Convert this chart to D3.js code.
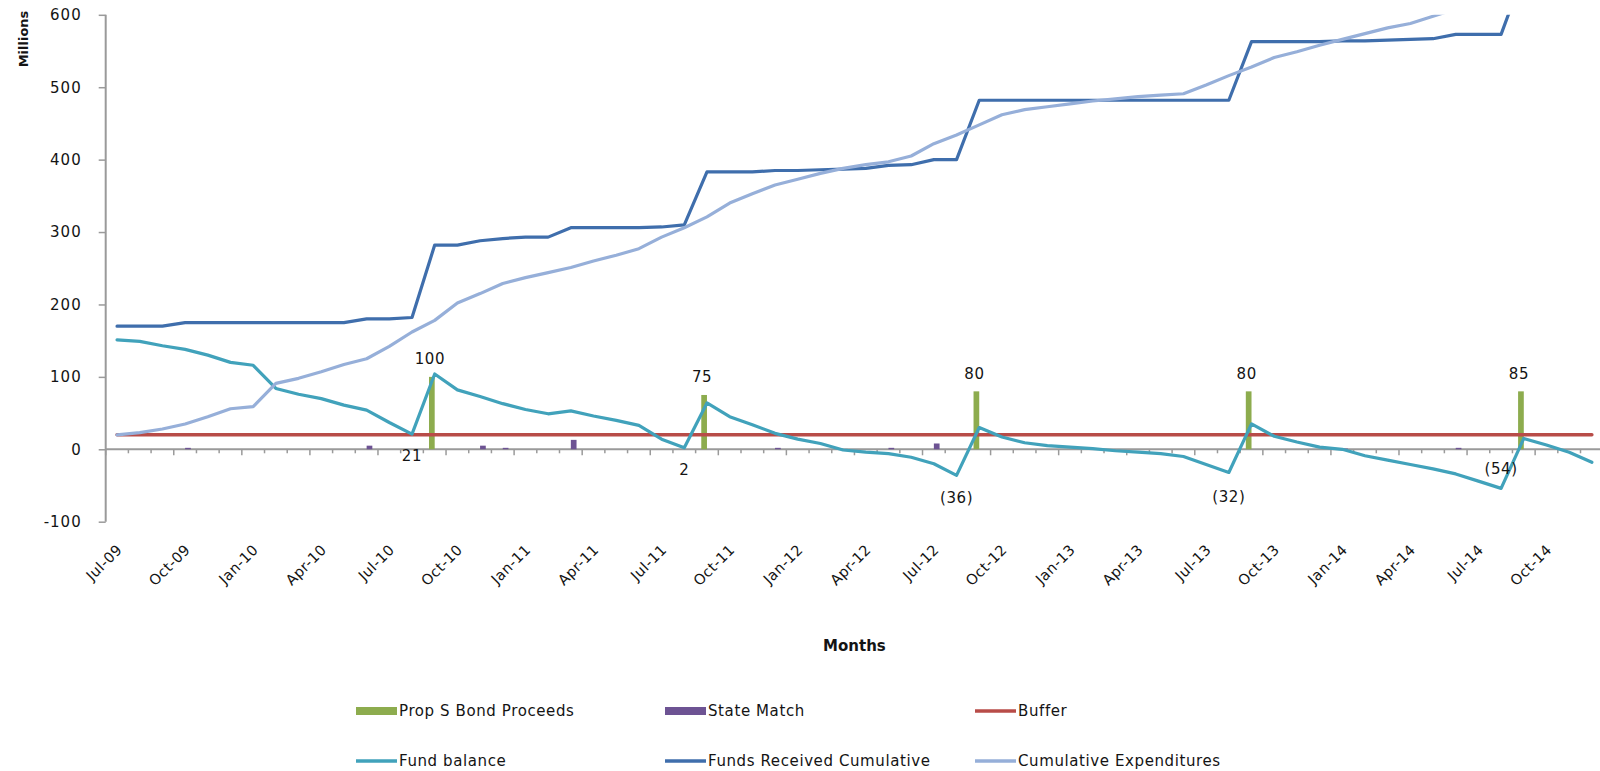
<!DOCTYPE html>
<html>
<head>
<meta charset="utf-8">
<script src="https://cdn.jsdelivr.net/npm/d3@7"></script>
<style>
  html, body { margin: 0; padding: 0; background: #ffffff; }
  svg { display: block; }
  text { font-family: "DejaVu Sans", Verdana, sans-serif; fill: #141414; }
</style>
</head>
<body>
<svg id="chart" width="1600" height="771"></svg>
<script>
// ---------------- DATA ----------------
const months = [
  "Jul-09","Aug-09","Sep-09","Oct-09","Nov-09","Dec-09",
  "Jan-10","Feb-10","Mar-10","Apr-10","May-10","Jun-10","Jul-10","Aug-10","Sep-10","Oct-10","Nov-10","Dec-10",
  "Jan-11","Feb-11","Mar-11","Apr-11","May-11","Jun-11","Jul-11","Aug-11","Sep-11","Oct-11","Nov-11","Dec-11",
  "Jan-12","Feb-12","Mar-12","Apr-12","May-12","Jun-12","Jul-12","Aug-12","Sep-12","Oct-12","Nov-12","Dec-12",
  "Jan-13","Feb-13","Mar-13","Apr-13","May-13","Jun-13","Jul-13","Aug-13","Sep-13","Oct-13","Nov-13","Dec-13",
  "Jan-14","Feb-14","Mar-14","Apr-14","May-14","Jun-14","Jul-14","Aug-14","Sep-14","Oct-14","Nov-14","Dec-14"
];

const xTickLabels = [
  "Jul-09","Oct-09","Jan-10","Apr-10","Jul-10","Oct-10","Jan-11","Apr-11","Jul-11","Oct-11",
  "Jan-12","Apr-12","Jul-12","Oct-12","Jan-13","Apr-13","Jul-13","Oct-13","Jan-14","Apr-14","Jul-14","Oct-14"
];

const yTicks = [-100, 0, 100, 200, 300, 400, 500, 600];

const propSMonths = ["Sep-10","Sep-11","Sep-12","Sep-13","Sep-14"];
const propSValues = [100, 75, 80, 80, 80];
const propSLabels = ["100", "75", "80", "80", "85"];

const stateMatchMonths = ["Oct-09","Jun-10","Nov-10","Dec-10","Mar-11","Dec-11","May-12","Jul-12","Jan-14","Jun-14"];
const stateMatchValues = [2, 5, 5, 2, 13, 2, 2, 8, 1, 2];

const buffer = [
  20,20,20,20,20,20, 20,20,20,20,20,20,20,20,20,20,20,20,
  20,20,20,20,20,20,20,20,20,20,20,20, 20,20,20,20,20,20,20,20,20,20,20,20,
  20,20,20,20,20,20,20,20,20,20,20,20, 20,20,20,20,20,20,20,20,20,20,20,20
];

const fundBalance = [
  151,149,143,138,130,120,
  116,84,76,70,61,54,37,21,104,82,73,63,
  55,49,53,46,40,33,14,2,64,45,34,22,
  14,8,-1,-4,-6,-11,-20,-36,30,17,9,5,
  3,1,-2,-4,-6,-10,-21,-32,35,18,10,3,
  0,-9,-15,-21,-27,-34,-44,-54,15,6,-4,-18
];

const fundsReceivedCumulative = [
  170,170,170,175,175,175,
  175,175,175,175,175,180,180,182,282,282,288,291,
  293,293,306,306,306,306,307,310,383,383,383,385,
  385,386,387,388,392,393,400,400,482,482,482,482,
  482,482,482,482,482,482,482,482,563,563,563,563,
  564,564,565,566,567,573,573,573,658,658,658,658
];

const cumulativeExpenditures = [
  20,23,28,35,45,56,
  59,91,98,107,117,125,142,162,178,202,215,229,
  237,244,251,260,268,277,293,306,321,340,353,365,
  373,381,388,393,397,405,422,434,448,462,469,473,
  477,481,484,487,489,491,503,516,528,541,549,558,
  566,574,582,588,598,608,617,627,643,652,662,676
];

// months carrying a data label on the Fund balance line
const fundLabelMonths = ["Aug-10","Aug-11","Aug-12","Aug-13","Aug-14"];

// ---------------- LAYOUT / STYLE ----------------
const plot = { left: 105.7, right: 1603.2, top: 14.8, bottom: 521.7 };
const colors = {
  propS: "#8DAC4E",
  state: "#6D5393",
  buffer: "#B84C48",
  fund: "#41A2BB",
  received: "#3F6EAC",
  expend: "#96AFD9",
  axis: "#9A9A9A"
};
const fundLabelDy = [22, 22, 22, 24, -20];

const svg = d3.select("#chart");

const x = d3.scaleBand().domain(months).range([plot.left, plot.right]).padding(0);
const y = d3.scaleLinear().domain([-100, 600]).range([plot.bottom, plot.top]);
const xs = d3.scaleBand().domain(["propS", "state"]).range([0, x.bandwidth()]).paddingInner(0).paddingOuter(0.99);
const cx = m => x(m) + x.bandwidth() / 2;

// clip
svg.append("defs").append("clipPath").attr("id", "plotClip")
  .append("rect").attr("x", plot.left).attr("y", plot.top)
  .attr("width", plot.right - plot.left).attr("height", plot.bottom - plot.top);

// ---------------- AXES ----------------
const yAxis = svg.append("g").attr("transform", `translate(${plot.left},0)`)
  .call(d3.axisLeft(y).tickValues(yTicks).tickSize(7).tickPadding(17).tickFormat(d => String(d)));
yAxis.select(".domain").attr("stroke", colors.axis).attr("stroke-width", 2)
  .attr("d", `M0,${plot.top}V${plot.bottom}`);
yAxis.selectAll(".tick line").attr("stroke", colors.axis).attr("stroke-width", 1.5);
yAxis.selectAll(".tick text").attr("font-size", 15).attr("letter-spacing", 1)
  .style("font-family", '"DejaVu Sans", Verdana, sans-serif').attr("fill", "#141414");

// x axis line at zero
const y0 = y(0);
const xAxisG = svg.append("g");
xAxisG.append("line").attr("x1", plot.left).attr("x2", plot.right)
  .attr("y1", y0).attr("y2", y0).attr("stroke", colors.axis).attr("stroke-width", 2);
// boundary ticks
const boundaries = d3.range(months.length + 1);
xAxisG.selectAll("line.tk").data(boundaries).join("line").attr("class", "tk")
  .attr("x1", i => plot.left + i * x.step()).attr("x2", i => plot.left + i * x.step())
  .attr("y1", y0).attr("y2", i => y0 + (i % 3 === 0 ? 6 : 4))
  .attr("stroke", colors.axis).attr("stroke-width", 1.5);
// labels at the bottom of the plot
svg.append("g").selectAll("text").data(xTickLabels).join("text")
  .attr("transform", d => `translate(${cx(d) + 6},${plot.bottom + 29}) rotate(-45)`)
  .attr("text-anchor", "end").attr("font-size", 14.5).attr("letter-spacing", 0.4)
  .text(d => d);

// axis titles
svg.append("text").attr("transform", "translate(28,39) rotate(-90)")
  .attr("text-anchor", "middle").attr("font-size", 13).attr("font-weight", "bold").text("Millions");
svg.append("text").attr("x", (plot.left + plot.right) / 2).attr("y", 651)
  .attr("text-anchor", "middle").attr("font-size", 15).attr("font-weight", "bold").text("Months");

// ---------------- BARS ----------------
const barG = svg.append("g").attr("clip-path", "url(#plotClip)");
const propData = propSMonths.map((m, i) => ({ m, v: propSValues[i], label: propSLabels[i] }));
const stateData = stateMatchMonths.map((m, i) => ({ m, v: stateMatchValues[i] }));

barG.selectAll("rect.p").data(propData).join("rect").attr("class", "p")
  .attr("x", d => x(d.m) + xs("propS")).attr("width", xs.bandwidth())
  .attr("y", d => y(d.v)).attr("height", d => y(0) - y(d.v))
  .attr("fill", colors.propS);
barG.selectAll("rect.s").data(stateData).join("rect").attr("class", "s")
  .attr("x", d => x(d.m) + xs("state")).attr("width", xs.bandwidth())
  .attr("y", d => y(d.v)).attr("height", d => y(0) - y(d.v))
  .attr("fill", colors.state);

// ---------------- LINES ----------------
const lineG = svg.append("g").attr("clip-path", "url(#plotClip)");
const mkLine = vals => d3.line().x((d, i) => cx(months[i])).y(d => y(d))(vals);
const seriesLines = [
  { vals: buffer, color: colors.buffer, w: 3.5 },
  { vals: fundBalance, color: colors.fund, w: 3.2 },
  { vals: fundsReceivedCumulative, color: colors.received, w: 3.2 },
  { vals: cumulativeExpenditures, color: colors.expend, w: 3.2 }
];
lineG.selectAll("path").data(seriesLines).join("path")
  .attr("d", d => mkLine(d.vals)).attr("fill", "none")
  .attr("stroke", d => d.color).attr("stroke-width", d => d.w)
  .attr("stroke-linejoin", "round").attr("stroke-linecap", "round");

// ---------------- DATA LABELS ----------------
svg.append("g").selectAll("text").data(propData).join("text")
  .attr("x", d => x(d.m) + xs("propS") + xs.bandwidth() / 2 - 2)
  .attr("y", d => y(d.v) - 18).attr("dy", "0.35em")
  .attr("text-anchor", "middle").attr("font-size", 15).attr("letter-spacing", 0.6)
  .text(d => d.label);

const fmtParen = v => v < 0 ? `(${-v})` : String(v);
svg.append("g").selectAll("text").data(fundLabelMonths).join("text")
  .attr("x", m => cx(m))
  .attr("y", (m, i) => y(fundBalance[months.indexOf(m)]) + fundLabelDy[i]).attr("dy", "0.35em")
  .attr("text-anchor", "middle").attr("font-size", 15).attr("letter-spacing", 0.6)
  .text(m => fmtParen(fundBalance[months.indexOf(m)]));

// ---------------- LEGEND ----------------
const legendItems = [
  { name: "Prop S Bond Proceeds", type: "bar", color: colors.propS },
  { name: "State Match", type: "bar", color: colors.state },
  { name: "Buffer", type: "line", color: colors.buffer },
  { name: "Fund balance", type: "line", color: colors.fund },
  { name: "Funds Received Cumulative", type: "line", color: colors.received },
  { name: "Cumulative Expenditures", type: "line", color: colors.expend }
];
const legCols = [356, 665, 975], legRows = [711, 761], swW = 41;
const leg = svg.append("g").selectAll("g").data(legendItems).join("g")
  .attr("transform", (d, i) => `translate(${legCols[i % 3]},${legRows[Math.floor(i / 3)]})`);
leg.filter(d => d.type === "bar").append("rect")
  .attr("x", 0).attr("y", -4).attr("width", swW).attr("height", 8).attr("fill", d => d.color);
leg.filter(d => d.type === "line").append("line")
  .attr("x1", 0).attr("x2", swW).attr("y1", 0).attr("y2", 0)
  .attr("stroke", d => d.color).attr("stroke-width", 3.5);
leg.append("text").attr("x", swW + 2).attr("y", 0).attr("dy", "0.35em")
  .attr("font-size", 15).attr("letter-spacing", 0.6).text(d => d.name);
</script>
</body>
</html>
